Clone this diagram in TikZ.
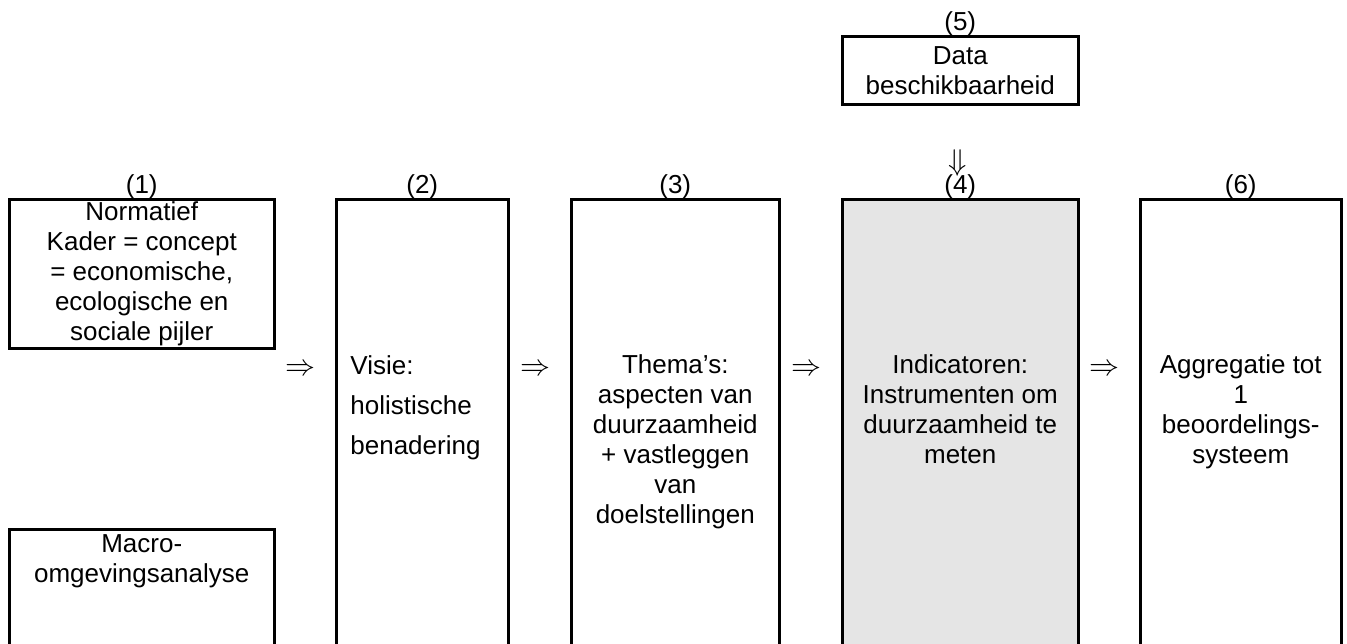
\documentclass[tikz,border=0pt]{standalone}
\usepackage{fontspec}
\setmainfont{Liberation Sans}
\usepackage{xcolor}
\usepackage{graphicx}
\usetikzlibrary{positioning,calc}
\definecolor{boxgray}{RGB}{229,229,229}

\begin{document}
\begin{tikzpicture}[
  x=0.5pt,y=-0.5pt,
  every node/.style={font=\fontsize{13}{15}\selectfont,inner sep=0pt,align=center},
  box/.style={draw,line width=1.25pt,anchor=north west},
  tall/.style={box,minimum width=#1,minimum height=240pt},
  txt/.style={anchor=base},
  lbl/.style={anchor=base},
  sym/.style={},
]
\clip (0,0) rectangle (1347,643);

% left column
\node[box,minimum width=132.5pt,minimum height=74.5pt] (kader) at (8,198) {Normatief\\Kader = concept\\= economische,\\ecologische en\\sociale pijler};
\node[box,minimum width=132.5pt,minimum height=70pt] (macro) at (8,528) {};
\node[txt] (macrotxt) at ($(macro.north)+(0,54)$) {Macro-\\omgevingsanalyse};

% main steps
\node[tall=86pt] (visie) at (335,198) {};
\node[tall=104pt] (thema) at (570,198) {};
\node[tall=118pt,fill=boxgray] (indic) at (841,198) {};
\node[tall=100.5pt] (aggr) at (1139,198) {};
\node[box,minimum width=118pt,minimum height=34pt] (data) at (841,35) {Data\\beschikbaarheid};

% base anchor = last line
\node[txt,anchor=base west,align=left,font=\fontsize{13}{20}\selectfont] (visietxt) at ($(visie.north west)+(15,256)$) {Visie:\\holistische\\benadering};
\node[txt] (thematxt) at ($(thema.north)+(0,325)$) {Thema’s:\\aspecten van\\duurzaamheid\\+ vastleggen\\van\\doelstellingen};
\node[txt] (indictxt) at ($(indic.north)+(0,265)$) {Indicatoren:\\Instrumenten om\\duurzaamheid te\\meten};
\node[txt] (aggrtxt) at ($(aggr.north)+(0,265)$) {Aggregatie tot\\1\\beoordelings-\\systeem};

% numbers
\node[lbl] (n1) at ($(kader.north)+(0,-5)$) {(1)};
\node[lbl] (n2) at ($(visie.north)+(0,-5)$) {(2)};
\node[lbl] (n3) at ($(thema.north)+(0,-5)$) {(3)};
\node[lbl] (n4) at ($(indic.north)+(0,-5)$) {(4)};
\node[lbl] (n5) at ($(data.north)+(0,-5)$) {(5)};
\node[lbl] (n6) at ($(aggr.north)+(0,-5)$) {(6)};

% arrow signs
\node (p12) at (300,370) {\scalebox{1.25}{$\Rightarrow$}};
\node (p23) at (535,370) {\scalebox{1.25}{$\Rightarrow$}};
\node (p34) at (806,370) {\scalebox{1.25}{$\Rightarrow$}};
\node (p46) at (1104,370) {\scalebox{1.25}{$\Rightarrow$}};
\node (p54) at (958,163) {\scalebox{1.25}{$\Downarrow$}};
\end{tikzpicture}
\end{document}
